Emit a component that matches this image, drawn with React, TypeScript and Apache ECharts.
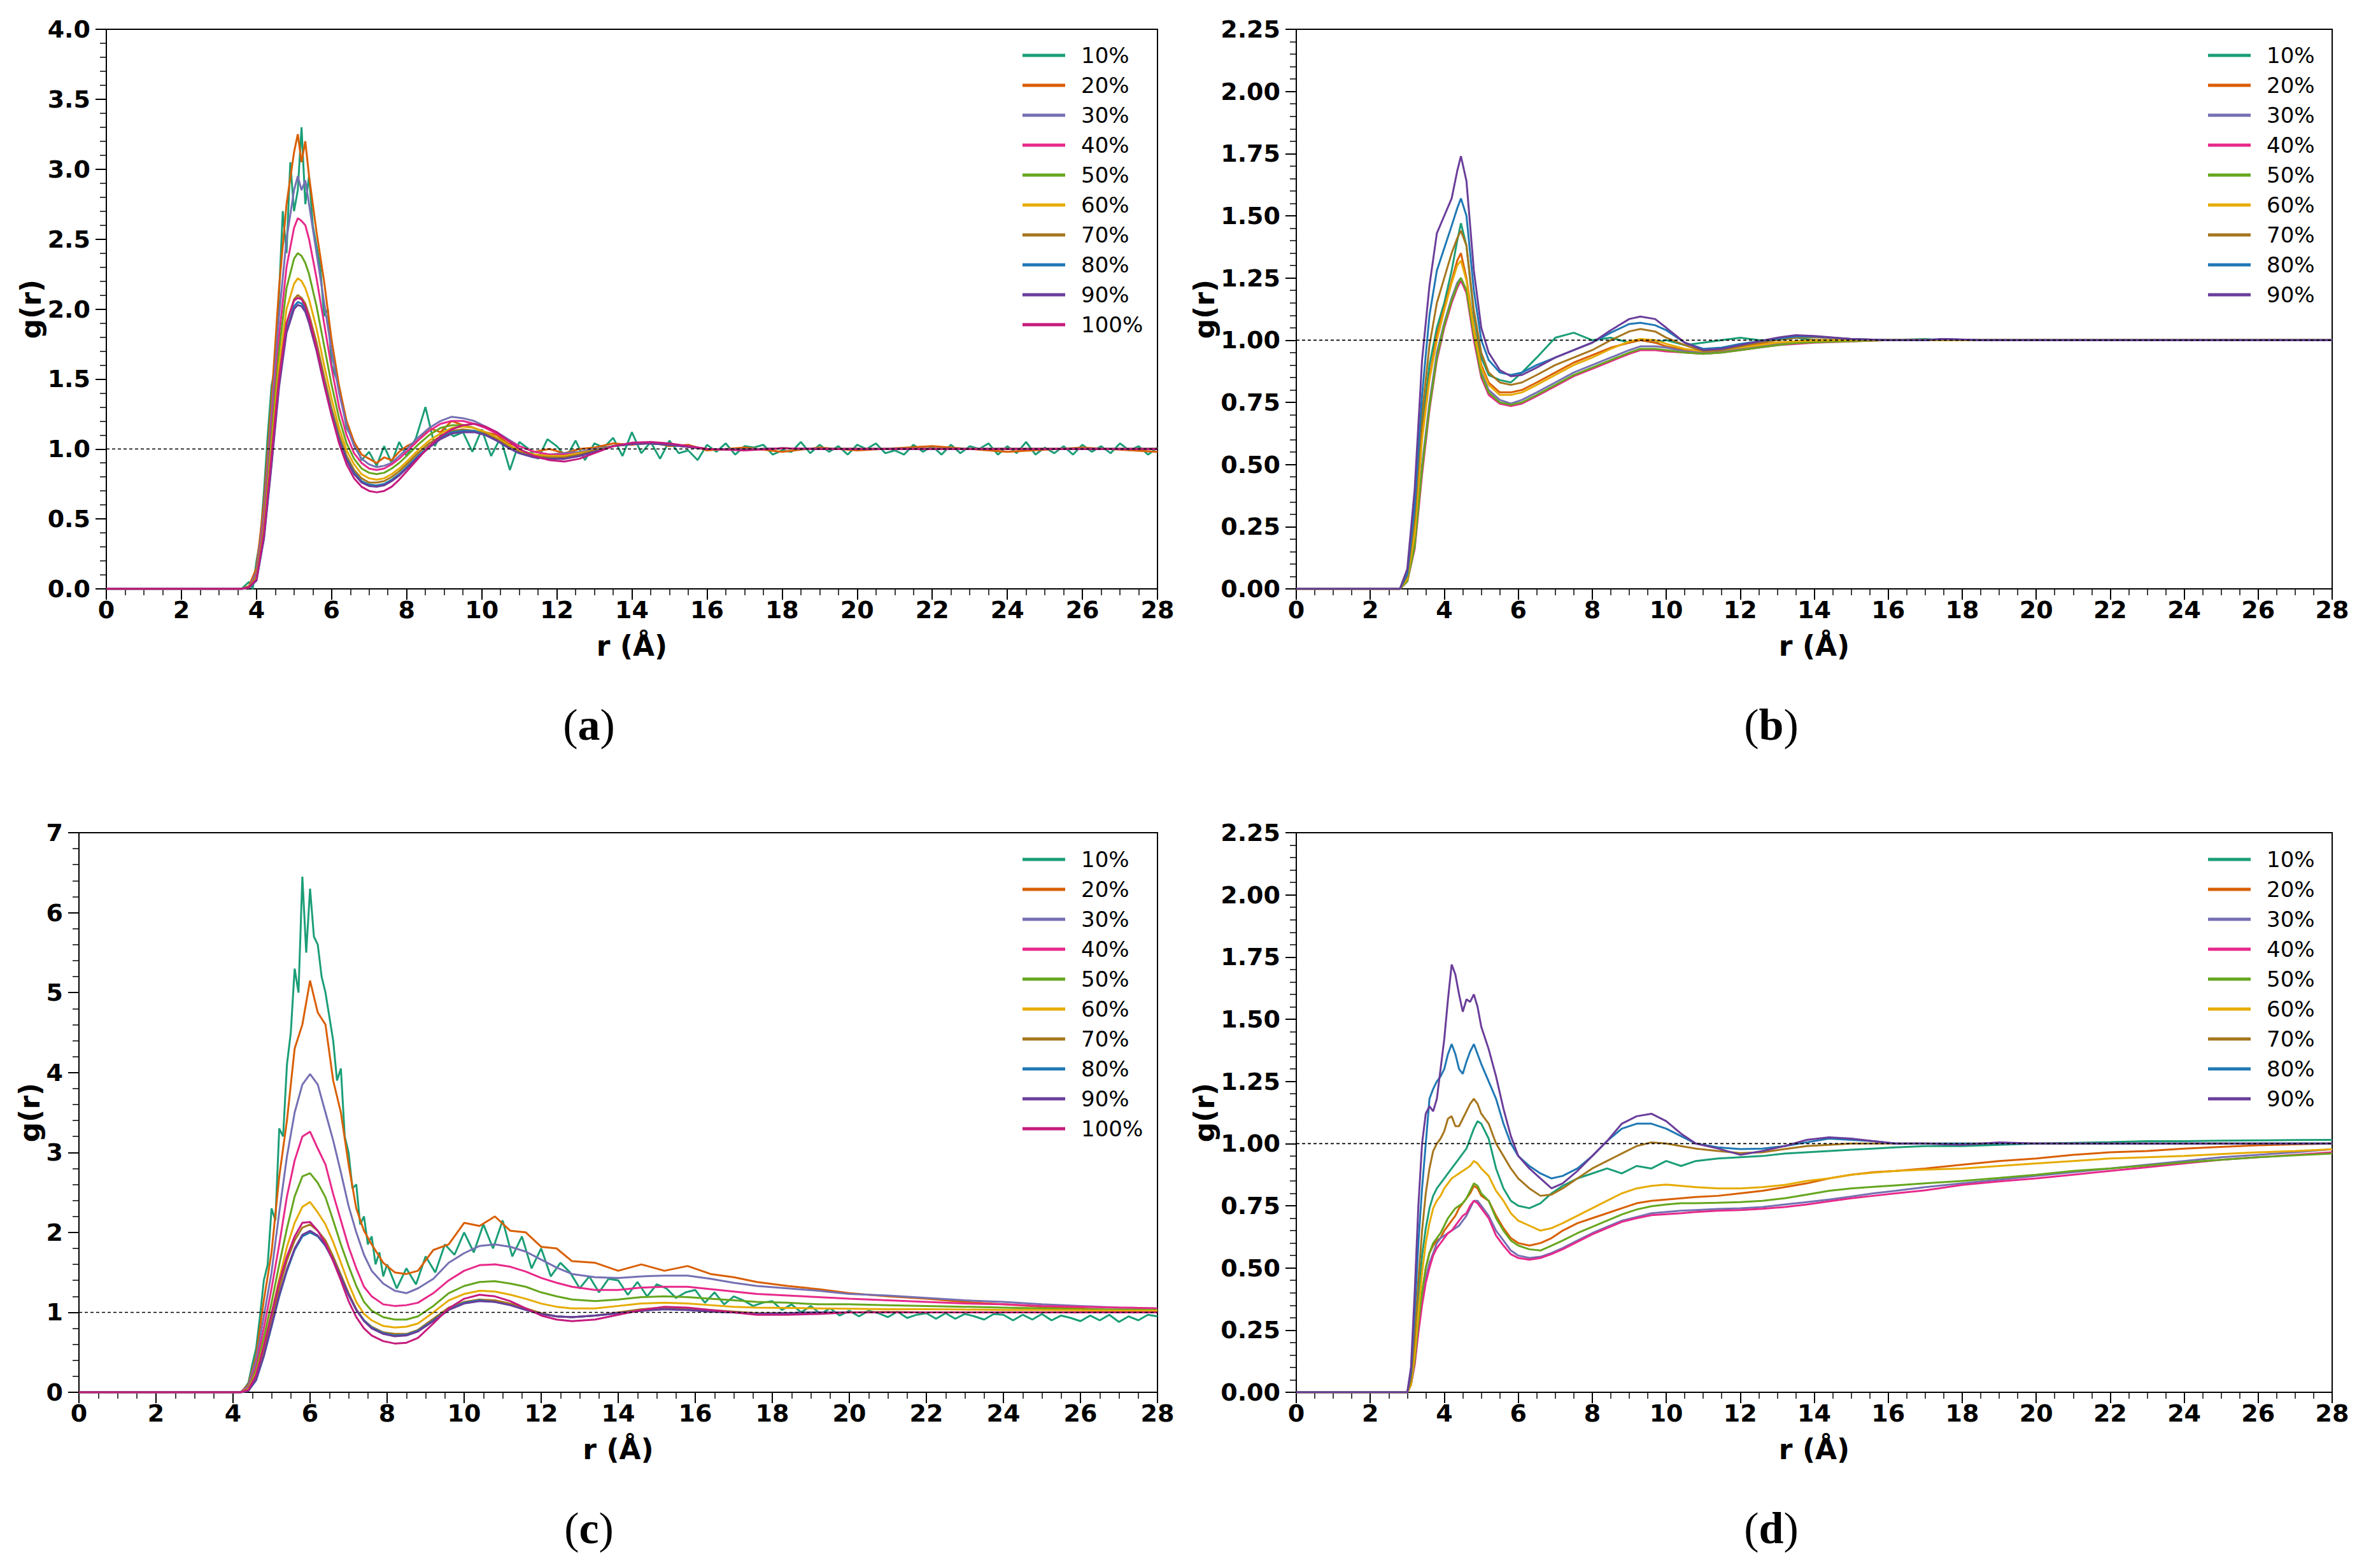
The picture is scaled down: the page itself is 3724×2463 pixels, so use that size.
import { useEffect, useRef } from "react"
import * as echarts from "echarts"

const names = ["10%", "20%", "30%", "40%", "50%", "60%", "70%", "80%", "90%", "100%"]
const colors = ["#1b9e77", "#d95f02", "#7570b3", "#e7298a", "#66a61e", "#e6ab02", "#a6761d", "#1f78b4", "#6a3d9a", "#c51b7d"]

// ---- panel (a) ----
const rA = [0, 3.6, 3.8, 4.0, 4.2, 4.4, 4.6, 4.8, 5.0, 5.1, 5.2, 5.3, 5.4, 5.6, 5.8, 6.0, 6.2, 6.4, 6.6, 6.8, 7.0, 7.2, 7.4, 7.6, 7.8, 8.0, 8.3, 8.6, 8.9, 9.2, 9.5, 9.8, 10.1, 10.4, 10.7, 11.0, 11.4, 11.8, 12.2, 12.6, 13.0, 13.5, 14.0, 14.5, 15.0, 15.5, 16, 17, 18, 19, 20, 22, 24, 26, 28]
const rA10 = [
  0, 3.6, 3.8, 3.9, 4.0, 4.1, 4.2, 4.3, 4.4, 4.5, 4.6, 4.7, 4.8, 4.9, 5.0, 5.1, 5.2, 5.3, 5.4, 5.5,
  5.6, 5.7, 5.8, 5.9, 6.0, 6.2, 6.4, 6.6, 6.8, 7.0, 7.2, 7.4, 7.6, 7.8, 8.0,
  8.25, 8.5, 8.75, 9.0, 9.25, 9.5, 9.75, 10.0,
  10.25, 10.5, 10.75, 11.0, 11.25, 11.5, 11.75, 12.0,
  12.25, 12.5, 12.75, 13.0, 13.25, 13.5, 13.75, 14.0,
  14.25, 14.5, 14.75, 15.0, 15.25, 15.5, 15.75, 16.0,
  16.25, 16.5, 16.75, 17.0, 17.25, 17.5, 17.75, 18.0,
  18.25, 18.5, 18.75, 19.0, 19.25, 19.5, 19.75, 20.0,
  20.25, 20.5, 20.75, 21.0, 21.25, 21.5, 21.75, 22.0,
  22.25, 22.5, 22.75, 23.0, 23.25, 23.5, 23.75, 24.0,
  24.25, 24.5, 24.75, 25.0, 25.25, 25.5, 25.75, 26.0,
  26.25, 26.5, 26.75, 27.0, 27.25, 27.5, 27.75, 28.0,
]
const a10 = [
  0, 0, 0.05, 0.0, 0.2, 0.35, 0.7, 1.1, 1.45, 1.6, 2.1, 2.7, 2.4, 3.05, 2.7, 2.85, 3.3, 2.75, 2.95, 2.6,
  2.45, 2.3, 1.95, 2.0, 1.6, 1.45, 1.15, 1.05, 0.92, 0.98, 0.88, 1.02, 0.9, 1.05, 0.95,
  1.08, 1.3, 1.02, 1.15, 1.09, 1.12, 0.98, 1.14,
  0.95, 1.08, 0.85, 1.05, 1.0, 0.93, 1.07, 1.02,
  0.94, 1.06, 0.92, 1.04, 1.01, 1.08, 0.95, 1.12,
  0.97, 1.05, 0.93, 1.06, 0.97, 0.99, 0.92, 1.03,
  0.98, 1.04, 0.96, 1.02, 1.01, 1.03, 0.96, 0.99,
  0.98, 1.05, 0.97, 1.03, 0.98, 1.02, 0.96, 1.03,
  1.0, 1.04, 0.97, 0.99, 0.96, 1.03, 0.98, 1.02,
  0.96, 1.03, 0.97, 1.02, 1.0, 1.04, 0.96, 1.02,
  0.97, 1.05, 0.96, 1.01, 0.97, 1.02, 0.96, 1.03,
  0.98, 1.02, 0.97, 1.04, 0.99, 1.02, 0.96, 1.01,
]
const a20 = [0, 0, 0.02, 0.15, 0.62, 1.35, 2.15, 2.75, 3.12, 3.25, 3.05, 3.2, 2.95, 2.55, 2.2, 1.78, 1.45, 1.2, 1.05, 0.96, 0.93, 0.9, 0.94, 0.92, 0.98, 1.02, 1.06, 1.15, 1.12, 1.2, 1.17, 1.15, 1.12, 1.1, 1.04, 1.02, 0.98, 1.0, 0.97, 1.0, 1.01, 1.04, 1.03, 1.05, 1.02, 1.03, 0.99, 1.01, 0.98, 1.01, 0.99, 1.02, 0.98, 1.01, 0.98]
const a30 = [0, 0, 0.01, 0.12, 0.55, 1.25, 1.95, 2.5, 2.85, 2.95, 2.85, 2.92, 2.75, 2.4, 2.05, 1.7, 1.4, 1.17, 1.02, 0.93, 0.89, 0.87, 0.88, 0.9, 0.95, 1.0, 1.08, 1.15, 1.2, 1.23, 1.22, 1.2, 1.16, 1.12, 1.07, 1.02, 0.98, 0.96, 0.97, 0.98, 1.0, 1.02, 1.04, 1.04, 1.03, 1.02, 1.0, 0.995, 1.005, 1.0, 1.0, 1.0, 1.0, 1.0, 1.0]
const a40 = [0, 0, 0.01, 0.1, 0.5, 1.15, 1.8, 2.3, 2.58, 2.65, 2.63, 2.6, 2.5, 2.22, 1.9, 1.58, 1.3, 1.1, 0.97, 0.9, 0.86, 0.85, 0.86, 0.89, 0.93, 0.98, 1.06, 1.13, 1.18, 1.2, 1.2, 1.18, 1.15, 1.11, 1.06, 1.02, 0.98, 0.96, 0.96, 0.97, 0.99, 1.02, 1.04, 1.045, 1.035, 1.02, 1.0, 0.995, 1.005, 1.0, 1.0, 1.0, 1.0, 1.0, 1.0]
const a50 = [0, 0, 0.01, 0.09, 0.45, 1.08, 1.7, 2.15, 2.36, 2.4, 2.38, 2.33, 2.25, 2.02, 1.74, 1.46, 1.22, 1.04, 0.93, 0.86, 0.83, 0.82, 0.83, 0.86, 0.9, 0.95, 1.03, 1.1, 1.15, 1.17, 1.17, 1.15, 1.12, 1.08, 1.03, 0.99, 0.96, 0.95, 0.95, 0.97, 0.99, 1.02, 1.035, 1.04, 1.03, 1.015, 1.0, 0.995, 1.005, 1.0, 1.0, 1.0, 1.0, 1.0, 1.0]
const a60 = [0, 0, 0.01, 0.08, 0.42, 1.0, 1.6, 2.0, 2.18, 2.22, 2.2, 2.15, 2.07, 1.86, 1.6, 1.36, 1.15, 0.99, 0.89, 0.82, 0.79, 0.78, 0.79, 0.82, 0.86, 0.91, 0.99, 1.06, 1.11, 1.15, 1.16, 1.15, 1.12, 1.08, 1.03, 0.99, 0.96, 0.95, 0.95, 0.97, 0.99, 1.02, 1.035, 1.04, 1.03, 1.015, 1.0, 0.995, 1.005, 1.0, 1.0, 1.0, 1.0, 1.0, 1.0]
const a70 = [0, 0, 0.01, 0.07, 0.4, 0.95, 1.52, 1.9, 2.07, 2.1, 2.08, 2.04, 1.96, 1.76, 1.52, 1.29, 1.1, 0.95, 0.85, 0.79, 0.76, 0.76, 0.77, 0.8, 0.84, 0.89, 0.97, 1.04, 1.09, 1.13, 1.14, 1.13, 1.11, 1.07, 1.02, 0.98, 0.95, 0.94, 0.94, 0.96, 0.99, 1.02, 1.035, 1.04, 1.03, 1.015, 1.0, 0.995, 1.005, 1.0, 1.0, 1.0, 1.0, 1.0, 1.0]
const a80 = [0, 0, 0.01, 0.06, 0.37, 0.9, 1.46, 1.85, 2.02, 2.05, 2.04, 2.0, 1.92, 1.72, 1.48, 1.26, 1.07, 0.93, 0.83, 0.77, 0.745, 0.74, 0.75, 0.78, 0.82, 0.87, 0.95, 1.02, 1.08, 1.12, 1.13, 1.13, 1.1, 1.06, 1.01, 0.97, 0.94, 0.93, 0.93, 0.95, 0.98, 1.02, 1.035, 1.04, 1.03, 1.015, 1.0, 0.995, 1.005, 1.0, 1.0, 1.0, 1.0, 1.0, 1.0]
const a90 = [0, 0, 0.01, 0.06, 0.36, 0.88, 1.44, 1.83, 2.0, 2.03, 2.02, 1.98, 1.9, 1.7, 1.46, 1.24, 1.06, 0.92, 0.82, 0.76, 0.735, 0.73, 0.74, 0.77, 0.81, 0.86, 0.94, 1.01, 1.07, 1.11, 1.12, 1.12, 1.1, 1.06, 1.01, 0.97, 0.94, 0.93, 0.93, 0.95, 0.98, 1.02, 1.035, 1.04, 1.03, 1.015, 1.0, 0.995, 1.005, 1.0, 1.0, 1.0, 1.0, 1.0, 1.0]
const a100 = [0, 0, 0.01, 0.07, 0.4, 0.95, 1.5, 1.9, 2.06, 2.08, 2.07, 2.02, 1.94, 1.72, 1.47, 1.24, 1.04, 0.89, 0.79, 0.73, 0.7, 0.69, 0.7, 0.73, 0.78, 0.84, 0.93, 1.02, 1.09, 1.14, 1.17, 1.18, 1.16, 1.12, 1.06, 1.0, 0.95, 0.92, 0.91, 0.93, 0.97, 1.02, 1.045, 1.05, 1.04, 1.02, 1.0, 0.99, 1.005, 1.0, 1.0, 1.0, 1.0, 1.0, 1.0]

// ---- panel (b) ----
const rB = [0, 2.8, 3.0, 3.2, 3.4, 3.6, 3.8, 4.0, 4.2, 4.35, 4.45, 4.6, 4.8, 5.0, 5.2, 5.5, 5.8, 6.1, 6.5, 7.0, 7.5, 8.0, 8.5, 9.0, 9.3, 9.7, 10.0, 10.5, 11.0, 11.5, 12.0, 12.5, 13.0, 13.5, 14.0, 15.0, 16.0, 17.0, 17.5, 18.5, 20, 22, 24, 26, 28]
const b10 = [0, 0, 0.04, 0.25, 0.65, 0.9, 1.05, 1.15, 1.28, 1.4, 1.47, 1.38, 1.1, 0.93, 0.86, 0.84, 0.83, 0.87, 0.93, 1.01, 1.03, 1.0, 1.01, 0.99, 1.0, 0.99, 1.0, 0.98, 0.99, 1.0, 1.01, 1.0, 1.0, 1.01, 1.0, 1.0, 1.0, 1.005, 1.0, 1.0, 1.0, 1.0, 1.0, 1.0, 1.0]
const b20 = [0, 0, 0.04, 0.22, 0.62, 0.85, 1.02, 1.13, 1.24, 1.32, 1.35, 1.25, 1.05, 0.9, 0.83, 0.79, 0.79, 0.8, 0.83, 0.87, 0.91, 0.94, 0.97, 0.99, 1.0, 0.99, 0.975, 0.96, 0.95, 0.96, 0.97, 0.985, 0.99, 0.995, 1.0, 1.0, 1.0, 1.0, 1.0, 1.0, 1.0, 1.0, 1.0, 1.0, 1.0]
const b30 = [0, 0, 0.03, 0.18, 0.5, 0.75, 0.95, 1.07, 1.17, 1.23, 1.25, 1.2, 1.02, 0.87, 0.8, 0.76, 0.745, 0.76, 0.79, 0.83, 0.87, 0.9, 0.93, 0.96, 0.975, 0.975, 0.97, 0.955, 0.95, 0.955, 0.965, 0.975, 0.985, 0.99, 0.995, 0.998, 1.0, 1.0, 1.0, 1.0, 1.0, 1.0, 1.0, 1.0, 1.0]
const b40 = [0, 0, 0.03, 0.16, 0.46, 0.72, 0.92, 1.05, 1.15, 1.21, 1.24, 1.19, 1.0, 0.85, 0.78, 0.745, 0.735, 0.745, 0.775, 0.815, 0.855, 0.885, 0.915, 0.945, 0.96, 0.96, 0.955, 0.95, 0.945, 0.95, 0.96, 0.97, 0.98, 0.985, 0.99, 0.995, 1.0, 1.0, 1.0, 1.0, 1.0, 1.0, 1.0, 1.0, 1.0]
const b50 = [0, 0, 0.03, 0.17, 0.48, 0.73, 0.93, 1.06, 1.16, 1.22, 1.25, 1.2, 1.02, 0.86, 0.79, 0.75, 0.74, 0.75, 0.78, 0.82, 0.86, 0.89, 0.92, 0.95, 0.965, 0.965, 0.96, 0.95, 0.945, 0.95, 0.96, 0.97, 0.98, 0.988, 0.992, 0.996, 1.0, 1.0, 1.0, 1.0, 1.0, 1.0, 1.0, 1.0, 1.0]
const b60 = [0, 0, 0.04, 0.22, 0.6, 0.84, 1.0, 1.12, 1.23, 1.3, 1.32, 1.24, 1.04, 0.89, 0.82, 0.78, 0.78, 0.79, 0.82, 0.86, 0.9, 0.93, 0.965, 0.995, 1.005, 1.0, 0.985, 0.965, 0.955, 0.96, 0.97, 0.98, 0.99, 0.995, 0.998, 1.0, 1.0, 1.0, 1.0, 1.0, 1.0, 1.0, 1.0, 1.0, 1.0]
const b70 = [0, 0, 0.05, 0.28, 0.7, 0.98, 1.15, 1.25, 1.35, 1.41, 1.44, 1.38, 1.12, 0.95, 0.87, 0.83, 0.82, 0.83, 0.86, 0.9, 0.93, 0.96, 1.0, 1.035, 1.045, 1.035, 1.01, 0.98, 0.955, 0.96, 0.975, 0.99, 1.0, 1.01, 1.012, 1.005, 1.0, 1.0, 1.003, 1.0, 1.0, 1.0, 1.0, 1.0, 1.0]
const b80 = [0, 0, 0.06, 0.33, 0.78, 1.1, 1.28, 1.37, 1.46, 1.53, 1.57, 1.5, 1.2, 1.0, 0.92, 0.87, 0.86, 0.87, 0.9, 0.93, 0.96, 0.99, 1.03, 1.065, 1.07, 1.06, 1.04, 0.99, 0.965, 0.97, 0.985, 0.995, 1.005, 1.015, 1.015, 1.005, 1.0, 1.0, 1.005, 1.0, 1.0, 1.0, 1.0, 1.0, 1.0]
const b90 = [0, 0, 0.08, 0.4, 0.92, 1.22, 1.43, 1.5, 1.57, 1.68, 1.74, 1.64, 1.28, 1.05, 0.95, 0.88, 0.855, 0.86, 0.89, 0.93, 0.96, 0.99, 1.04, 1.085, 1.095, 1.085, 1.05, 0.99, 0.96, 0.965, 0.98, 0.995, 1.01, 1.02, 1.017, 1.005, 1.0, 1.0, 1.005, 1.0, 1.0, 1.0, 1.0, 1.0, 1.0]

// ---- panel (c) ----
const rC = [0, 4.2, 4.4, 4.6, 4.8, 5.0, 5.2, 5.4, 5.6, 5.8, 6.0, 6.2, 6.4, 6.6, 6.8, 7.0, 7.2, 7.4, 7.6, 7.9, 8.2, 8.5, 8.8, 9.2, 9.6, 10.0, 10.4, 10.8, 11.2, 11.6, 12.0, 12.4, 12.8, 13.4, 14.0, 14.6, 15.2, 15.8, 16.4, 17.0, 17.6, 18.4, 19.2, 20, 21, 22, 23, 24, 25, 26, 27, 28]
const rC10 = [
  0, 4.2, 4.3, 4.4, 4.5, 4.6, 4.7, 4.8, 4.9, 5.0, 5.1,
  5.2, 5.3, 5.4, 5.5, 5.6, 5.7, 5.8, 5.9, 6.0, 6.1,
  6.2, 6.3, 6.4, 6.5, 6.6, 6.7, 6.8, 6.9, 7.0, 7.1,
  7.2, 7.3, 7.4, 7.5, 7.6, 7.7, 7.8, 7.9, 8.0,
  8.25, 8.5, 8.75, 9.0, 9.25, 9.5, 9.75, 10.0,
  10.25, 10.5, 10.75, 11.0, 11.25, 11.5, 11.75, 12.0,
  12.25, 12.5, 12.75, 13.0, 13.25, 13.5, 13.75, 14.0,
  14.25, 14.5, 14.75, 15.0, 15.25, 15.5, 15.75, 16.0,
  16.25, 16.5, 16.75, 17.0, 17.25, 17.5, 17.75, 18.0,
  18.25, 18.5, 18.75, 19.0, 19.25, 19.5, 19.75, 20.0,
  20.25, 20.5, 20.75, 21.0, 21.25, 21.5, 21.75, 22.0,
  22.25, 22.5, 22.75, 23.0, 23.25, 23.5, 23.75, 24.0,
  24.25, 24.5, 24.75, 25.0, 25.25, 25.5, 25.75, 26.0,
  26.25, 26.5, 26.75, 27.0, 27.25, 27.5, 27.75, 28.0,
]
const c10 = [
  0, 0, 0.05, 0.12, 0.35, 0.55, 0.95, 1.4, 1.6, 2.3, 2.15,
  3.3, 3.2, 4.1, 4.5, 5.3, 5.0, 6.45, 5.5, 6.3, 5.7,
  5.6, 5.2, 5.0, 4.7, 4.4, 3.9, 4.05, 3.2, 3.0, 2.55,
  2.6, 2.1, 2.2, 1.85, 1.95, 1.6, 1.75, 1.45, 1.6,
  1.3, 1.55, 1.35, 1.7, 1.5, 1.85, 1.72, 2.0,
  1.75, 2.1, 1.8, 2.15, 1.7, 1.95, 1.55, 1.8,
  1.45, 1.62, 1.5, 1.3, 1.45, 1.25, 1.42, 1.4,
  1.22, 1.38, 1.2, 1.35, 1.3, 1.18, 1.25, 1.28,
  1.12, 1.25, 1.1, 1.2, 1.15, 1.08, 1.12, 1.14,
  1.03, 1.1, 1.0, 1.08, 0.98, 1.05, 0.96, 1.02,
  0.95, 1.02, 0.99, 0.94, 1.01, 0.93, 0.97, 0.99,
  0.92, 0.99, 0.92, 0.98, 0.95, 0.91, 0.98, 0.97,
  0.9, 0.97, 0.91, 0.98, 0.9, 0.96, 0.93, 0.89,
  0.96, 0.9, 0.97, 0.88, 0.95, 0.9, 0.97, 0.95,
]
const c20 = [0, 0, 0.1, 0.45, 1.15, 1.75, 2.7, 3.4, 4.3, 4.6, 5.15, 4.75, 4.6, 3.9, 3.5, 2.85, 2.3, 2.02, 1.85, 1.62, 1.5, 1.48, 1.52, 1.78, 1.85, 2.12, 2.08, 2.2, 2.02, 2.0, 1.82, 1.8, 1.64, 1.62, 1.52, 1.6, 1.52, 1.58, 1.48, 1.44, 1.38, 1.33, 1.29, 1.24, 1.2, 1.17, 1.13, 1.1, 1.07, 1.05, 1.02, 1.0]
const c30 = [0, 0, 0.08, 0.4, 0.95, 1.5, 2.25, 2.95, 3.5, 3.85, 3.98, 3.85, 3.5, 3.15, 2.75, 2.33, 2.0, 1.72, 1.52, 1.36, 1.27, 1.24, 1.3, 1.42, 1.62, 1.74, 1.83, 1.85, 1.82, 1.76, 1.66, 1.56, 1.48, 1.44, 1.43, 1.45, 1.46, 1.46, 1.42, 1.37, 1.33, 1.3, 1.27, 1.23, 1.21, 1.18, 1.15, 1.13, 1.1, 1.08, 1.06, 1.05]
const c40 = [0, 0, 0.06, 0.33, 0.8, 1.3, 1.85, 2.45, 2.9, 3.2, 3.26, 3.05, 2.85, 2.48, 2.15, 1.82, 1.55, 1.32, 1.2, 1.1, 1.08, 1.09, 1.12, 1.24, 1.4, 1.52, 1.59, 1.6, 1.57, 1.51, 1.43, 1.37, 1.32, 1.28, 1.28, 1.31, 1.32, 1.32, 1.29, 1.26, 1.23, 1.21, 1.19, 1.17, 1.15, 1.13, 1.11, 1.1, 1.08, 1.07, 1.06, 1.05]
const c50 = [0, 0, 0.05, 0.28, 0.68, 1.12, 1.6, 2.05, 2.45, 2.7, 2.74, 2.62, 2.44, 2.15, 1.85, 1.58, 1.33, 1.13, 1.02, 0.94, 0.91, 0.91, 0.95, 1.08, 1.24, 1.33, 1.38, 1.39, 1.36, 1.32, 1.25, 1.2, 1.16, 1.14, 1.16, 1.19, 1.2, 1.19, 1.17, 1.15, 1.13, 1.12, 1.1, 1.1, 1.09, 1.08, 1.07, 1.06, 1.05, 1.04, 1.035, 1.03]
const c60 = [0, 0, 0.04, 0.24, 0.6, 0.98, 1.42, 1.82, 2.12, 2.32, 2.38, 2.25, 2.1, 1.88, 1.62, 1.36, 1.13, 0.98, 0.9, 0.83, 0.81, 0.82, 0.86, 1.0, 1.15, 1.23, 1.27, 1.26, 1.22, 1.17, 1.11, 1.07, 1.05, 1.05, 1.08, 1.11, 1.12, 1.11, 1.09, 1.07, 1.06, 1.055, 1.05, 1.045, 1.04, 1.04, 1.035, 1.03, 1.03, 1.025, 1.02, 1.02]
const c70 = [0, 0, 0.03, 0.2, 0.52, 0.9, 1.3, 1.65, 1.9, 2.06, 2.1, 2.02, 1.9, 1.7, 1.47, 1.24, 1.04, 0.9, 0.82, 0.75, 0.73, 0.73, 0.78, 0.92, 1.06, 1.13, 1.16, 1.15, 1.11, 1.05, 0.99, 0.95, 0.94, 0.96, 1.0, 1.04, 1.06, 1.05, 1.03, 1.01, 0.99, 0.99, 1.0, 1.0, 1.005, 1.0, 1.0, 1.0, 1.0, 1.0, 1.0, 1.0]
const c80 = [0, 0, 0.02, 0.15, 0.45, 0.82, 1.2, 1.52, 1.78, 1.95, 2.0, 1.95, 1.83, 1.65, 1.44, 1.22, 1.03, 0.9, 0.81, 0.74, 0.71, 0.72, 0.77, 0.9, 1.04, 1.12, 1.15, 1.13, 1.09, 1.03, 0.98, 0.95, 0.94, 0.96, 0.99, 1.02, 1.04, 1.03, 1.01, 1.0, 0.98, 0.99, 1.0, 1.0, 1.0, 1.0, 1.0, 1.0, 1.0, 1.0, 1.0, 1.0]
const c90 = [0, 0, 0.02, 0.16, 0.46, 0.84, 1.22, 1.54, 1.8, 1.97, 2.02, 1.96, 1.84, 1.66, 1.44, 1.22, 1.03, 0.89, 0.8, 0.73, 0.7, 0.71, 0.76, 0.89, 1.03, 1.11, 1.14, 1.13, 1.09, 1.03, 0.98, 0.95, 0.94, 0.96, 0.99, 1.02, 1.04, 1.03, 1.01, 1.0, 0.98, 0.99, 1.0, 1.0, 1.0, 1.0, 1.0, 1.0, 1.0, 1.0, 1.0, 1.0]
const c100 = [0, 0, 0.03, 0.22, 0.58, 0.98, 1.38, 1.7, 1.95, 2.12, 2.13, 2.02, 1.86, 1.64, 1.4, 1.14, 0.94, 0.8, 0.71, 0.64, 0.61, 0.62, 0.68, 0.86, 1.05, 1.17, 1.22, 1.2, 1.14, 1.05, 0.96, 0.91, 0.89, 0.91, 0.97, 1.03, 1.07, 1.06, 1.03, 1.0, 0.97, 0.97, 0.98, 1.0, 1.0, 1.0, 1.0, 1.0, 1.0, 1.0, 1.0, 1.0]

// ---- panel (d) ----
const rD = [0, 3.0, 3.1, 3.2, 3.3, 3.4, 3.5, 3.6, 3.7, 3.8, 3.9, 4.0, 4.1, 4.2, 4.3, 4.4, 4.5, 4.6, 4.7, 4.8, 4.9, 5.0, 5.2, 5.4, 5.6, 5.8, 6.0, 6.3, 6.6, 6.9, 7.2, 7.6, 8.0, 8.4, 8.8, 9.2, 9.6, 10.0, 10.4, 10.8, 11.4, 12.0, 12.6, 13.2, 13.8, 14.4, 15.0, 15.6, 16.2, 17, 18, 19, 20, 21, 22, 23, 24, 25, 26, 27, 28]
const d10 = [0, 0, 0.04, 0.18, 0.38, 0.55, 0.66, 0.74, 0.79, 0.82, 0.84, 0.86, 0.88, 0.9, 0.92, 0.94, 0.96, 0.98, 1.02, 1.06, 1.09, 1.08, 1.02, 0.9, 0.82, 0.77, 0.75, 0.74, 0.76, 0.8, 0.83, 0.86, 0.88, 0.9, 0.88, 0.91, 0.9, 0.93, 0.91, 0.93, 0.94, 0.945, 0.95, 0.96, 0.965, 0.97, 0.975, 0.98, 0.985, 0.99, 0.99, 0.995, 1.0, 1.003, 1.006, 1.01, 1.01, 1.012, 1.013, 1.014, 1.015]
const d20 = [0, 0, 0.03, 0.13, 0.28, 0.4, 0.5, 0.56, 0.59, 0.61, 0.62, 0.65, 0.67, 0.69, 0.71, 0.74, 0.76, 0.78, 0.8, 0.83, 0.82, 0.79, 0.77, 0.71, 0.66, 0.62, 0.6, 0.59, 0.6, 0.62, 0.65, 0.68, 0.7, 0.72, 0.74, 0.76, 0.77, 0.775, 0.78, 0.785, 0.79, 0.8, 0.81, 0.825, 0.84, 0.86, 0.875, 0.885, 0.89, 0.9, 0.915, 0.93, 0.94, 0.955, 0.965, 0.97, 0.98, 0.987, 0.993, 0.997, 1.0]
const d30 = [0, 0, 0.03, 0.12, 0.25, 0.37, 0.46, 0.52, 0.56, 0.6, 0.62, 0.63, 0.64, 0.65, 0.66, 0.67, 0.69, 0.71, 0.74, 0.77, 0.77, 0.75, 0.71, 0.65, 0.61, 0.57, 0.55, 0.54, 0.545, 0.56, 0.58, 0.61, 0.64, 0.665, 0.69, 0.705, 0.72, 0.725, 0.73, 0.733, 0.737, 0.74, 0.745, 0.755, 0.765, 0.775, 0.787, 0.8, 0.81, 0.825, 0.84, 0.855, 0.87, 0.885, 0.9, 0.915, 0.93, 0.945, 0.955, 0.965, 0.977]
const d40 = [0, 0, 0.03, 0.11, 0.24, 0.35, 0.44, 0.5, 0.55, 0.58, 0.6, 0.62, 0.64, 0.65, 0.67, 0.69, 0.71, 0.72, 0.75, 0.77, 0.76, 0.74, 0.7, 0.63, 0.59, 0.555, 0.54, 0.533, 0.54, 0.556, 0.575, 0.605, 0.635, 0.66, 0.685, 0.7, 0.712, 0.716, 0.72, 0.725, 0.73, 0.733, 0.738, 0.745, 0.755, 0.768, 0.78, 0.79, 0.8, 0.812, 0.834, 0.848, 0.86, 0.875, 0.89, 0.905, 0.92, 0.935, 0.945, 0.955, 0.965]
const d50 = [0, 0, 0.03, 0.13, 0.28, 0.4, 0.5, 0.56, 0.6, 0.62, 0.64, 0.67, 0.7, 0.72, 0.74, 0.75, 0.76, 0.78, 0.81, 0.84, 0.83, 0.8, 0.77, 0.7, 0.65, 0.61, 0.59, 0.575, 0.57, 0.59, 0.61, 0.64, 0.665, 0.69, 0.715, 0.735, 0.748, 0.755, 0.76, 0.76, 0.762, 0.765, 0.77, 0.78, 0.795, 0.81, 0.82, 0.826, 0.832, 0.84, 0.85, 0.862, 0.875, 0.89, 0.9, 0.912, 0.925, 0.935, 0.945, 0.953, 0.96]
const d60 = [0, 0, 0.03, 0.15, 0.32, 0.48, 0.6, 0.68, 0.74, 0.77, 0.79, 0.82, 0.84, 0.86, 0.87, 0.88, 0.89, 0.9, 0.91, 0.93, 0.92, 0.9, 0.87, 0.81, 0.77, 0.72, 0.69, 0.67, 0.65, 0.66, 0.68, 0.71, 0.74, 0.77, 0.8, 0.82, 0.83, 0.835, 0.83, 0.825, 0.82, 0.82, 0.825, 0.834, 0.85, 0.86, 0.875, 0.883, 0.89, 0.895, 0.9, 0.91, 0.92, 0.93, 0.94, 0.945, 0.95, 0.958, 0.965, 0.97, 0.977]
const d70 = [0, 0, 0.05, 0.22, 0.45, 0.65, 0.8, 0.9, 0.97, 1.0, 1.02, 1.05, 1.1, 1.11, 1.07, 1.07, 1.1, 1.13, 1.16, 1.18, 1.16, 1.12, 1.08, 1.0, 0.95, 0.9, 0.86, 0.82, 0.79, 0.795, 0.82, 0.86, 0.9, 0.93, 0.96, 0.99, 1.005, 1.0, 0.99, 0.98, 0.97, 0.962, 0.965, 0.978, 0.99, 0.995, 1.0, 1.0, 1.0, 1.0, 1.0, 1.0, 1.0, 1.0, 1.0, 1.0, 1.0, 1.0, 1.0, 1.0, 1.0]
const d80 = [0, 0, 0.08, 0.32, 0.6, 0.82, 1.0, 1.18, 1.22, 1.25, 1.27, 1.3, 1.36, 1.4, 1.36, 1.3, 1.28, 1.33, 1.37, 1.4, 1.36, 1.32, 1.25, 1.18, 1.08, 1.0, 0.95, 0.91, 0.88, 0.86, 0.87, 0.9, 0.95, 1.01, 1.06, 1.08, 1.08, 1.06, 1.03, 1.0, 0.985, 0.978, 0.98, 0.99, 1.005, 1.02, 1.015, 1.01, 1.0, 1.0, 1.0, 1.0, 1.0, 1.0, 1.0, 1.0, 1.0, 1.0, 1.0, 1.0, 1.0]
const d90 = [0, 0, 0.1, 0.4, 0.75, 1.0, 1.12, 1.15, 1.13, 1.18, 1.3, 1.42, 1.58, 1.72, 1.68, 1.6, 1.53, 1.58, 1.57, 1.6, 1.55, 1.47, 1.38, 1.27, 1.14, 1.03, 0.95, 0.9, 0.86, 0.82, 0.84, 0.89, 0.95, 1.01, 1.08, 1.11, 1.12, 1.09, 1.04, 1.0, 0.98, 0.955, 0.97, 0.99, 1.015, 1.025, 1.02, 1.01, 1.0, 1.0, 0.995, 1.005, 1.0, 1.0, 1.0, 1.0, 1.0, 1.0, 1.0, 1.0, 1.0]

const xTicks = { min: 0, max: 28, interval: 2 }

const zip = (r: number[], g: number[]) => r.map((x, i) => [x, g[i]])

const panels = [
  {
    grid: { left: 167, top: 46, width: 1651, height: 879 },
    yMax: 4, yStep: 0.5, digits: 1, yNameGap: 95,
    legend: { left: 1606, top: 70 }, caption: "a", capX: 925, capY: 1138,
    curves: [[rA10, a10], [rA, a20], [rA, a30], [rA, a40], [rA, a50], [rA, a60], [rA, a70], [rA, a80], [rA, a90], [rA, a100]],
  },
  {
    grid: { left: 2036, top: 46, width: 1627, height: 879 },
    yMax: 2.25, yStep: 0.25, digits: 2, yNameGap: 119,
    legend: { left: 3468, top: 70 }, caption: "b", capX: 2782, capY: 1138,
    curves: [[rB, b10], [rB, b20], [rB, b30], [rB, b40], [rB, b50], [rB, b60], [rB, b70], [rB, b80], [rB, b90]],
  },
  {
    grid: { left: 124, top: 1308, width: 1694, height: 879 },
    yMax: 7, yStep: 1, digits: 0, yNameGap: 53,
    legend: { left: 1606, top: 1333 }, caption: "c", capX: 925, capY: 2400,
    curves: [[rC10, c10], [rC, c20], [rC, c30], [rC, c40], [rC, c50], [rC, c60], [rC, c70], [rC, c80], [rC, c90], [rC, c100]],
  },
  {
    grid: { left: 2036, top: 1308, width: 1627, height: 879 },
    yMax: 2.25, yStep: 0.25, digits: 2, yNameGap: 119,
    legend: { left: 3468, top: 1333 }, caption: "d", capX: 2782, capY: 2400,
    curves: [[rD, d10], [rD, d20], [rD, d30], [rD, d40], [rD, d50], [rD, d60], [rD, d70], [rD, d80], [rD, d90]],
  },
]

const tickFont = { fontFamily: "DejaVu Sans", fontWeight: "bold" as const, fontSize: 38, color: "#000" }
const nameFont = { fontFamily: "DejaVu Sans", fontWeight: "bold" as const, fontSize: 44, color: "#000" }

export default function App() {
  const chartRef = useRef<HTMLDivElement>(null)

  useEffect(() => {
    document.body.style.margin = "0"
    if (!chartRef.current) return
    const chart = echarts.init(chartRef.current, null, { renderer: "svg" })

    const series: any[] = []
    panels.forEach((p, i) => {
      p.curves.forEach(([r, g], j) => {
        series.push({
          type: "line",
          name: names[j],
          xAxisIndex: i,
          yAxisIndex: i,
          data: zip(r as number[], g as number[]),
          symbol: "none",
          color: colors[j],
          lineStyle: { width: 3, color: colors[j] },
          silent: true,
        })
      })
      // g(r) = 1 reference
      series.push({
        type: "line",
        xAxisIndex: i,
        yAxisIndex: i,
        data: [[0, 1], [28, 1]],
        symbol: "none",
        lineStyle: { width: 1.6, color: "#000", type: [5, 4] },
        z: 5,
        silent: true,
      })
    })

    chart.setOption({
      animation: false,
      backgroundColor: "#fff",
      grid: panels.map((p) => ({ ...p.grid, show: true, borderColor: "#000", borderWidth: 2, backgroundColor: "transparent" })),
      xAxis: panels.map((p, i) => ({
        type: "value",
        gridIndex: i,
        ...xTicks,
        name: "r (Å)",
        nameLocation: "middle",
        nameGap: 67,
        nameTextStyle: nameFont,
        axisLine: { show: true, onZero: false, lineStyle: { color: "#000", width: 2 } },
        axisTick: { show: true, length: 17, lineStyle: { color: "#000", width: 2 } },
        minorTick: { show: true, splitNumber: 4, length: 10, lineStyle: { color: "#000", width: 1.5 } },
        axisLabel: { ...tickFont, margin: 14, showMinLabel: true, showMaxLabel: true },
        splitLine: { show: false },
      })),
      yAxis: panels.map((p, i) => ({
        type: "value",
        gridIndex: i,
        min: 0,
        max: p.yMax,
        interval: p.yStep,
        name: "g(r)",
        nameLocation: "middle",
        nameGap: p.yNameGap,
        nameTextStyle: nameFont,
        axisLine: { show: true, onZero: false, lineStyle: { color: "#000", width: 2 } },
        axisTick: { show: true, length: 17, lineStyle: { color: "#000", width: 2 } },
        minorTick: { show: true, splitNumber: 5, length: 10, lineStyle: { color: "#000", width: 1.5 } },
        axisLabel: { ...tickFont, margin: 25, showMinLabel: true, showMaxLabel: true, formatter: (v: number) => v.toFixed(p.digits) },
        splitLine: { show: false },
      })),
      legend: panels.map((p) => ({
        left: p.legend.left,
        top: p.legend.top,
        orient: "vertical",
        padding: 0,
        data: names.slice(0, p.curves.length),
        icon: "rect",
        itemWidth: 67,
        itemHeight: 5,
        itemGap: 13,
        selectedMode: false,
        textStyle: { fontFamily: "DejaVu Sans", fontSize: 34, lineHeight: 34, color: "#000", padding: [0, 0, 0, 20] },
      })),
      graphic: panels.map((p) => ({
        type: "text",
        x: p.capX,
        y: p.capY,
        style: {
          text: "{p|(}{l|" + p.caption + "}{p|)}",
          align: "center",
          verticalAlign: "middle",
          rich: {
            p: { fontFamily: "Liberation Serif", fontSize: 70, fill: "#000" },
            l: { fontFamily: "Liberation Serif", fontSize: 70, fontWeight: "bold", fill: "#000" },
          },
        },
      })),
      series,
    })

    return () => {
      chart.dispose()
    }
  }, [])

  return <div ref={chartRef} style={{ width: 3724, height: 2463 }} />
}
